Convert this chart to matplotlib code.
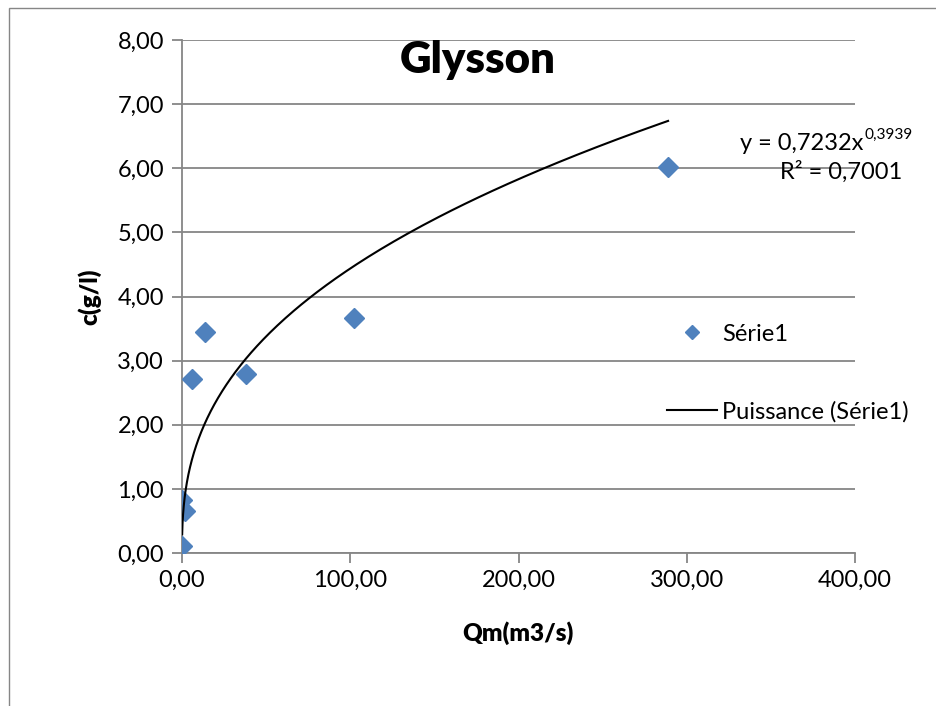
"""Glysson scatter plot with power trend line (Excel style)."""

import matplotlib
matplotlib.use("Agg")
import matplotlib.pyplot as plt
import numpy as np
from matplotlib.lines import Line2D
from matplotlib.patches import Rectangle
from matplotlib.transforms import offset_copy

# data
qm = [0.1, 0.2, 1.8, 5.8, 13.9, 37.8, 102.2, 288.9]
conc = [0.11, 0.83, 0.66, 2.71, 3.45, 2.79, 3.67, 6.02]

# power trend line as printed on the chart
coef_a = 0.7232
coef_b = 0.3939
r2_text = "R² = 0,7001"

x_ticks = [0, 100, 200, 300, 400]
y_ticks = [0, 1, 2, 3, 4, 5, 6, 7, 8]


def fr(v, fmt="{:.2f}"):
    return fmt.format(v).replace(".", ",")


plt.rcParams["font.family"] = ["Lato", "DejaVu Sans"]

blue = "#4F81BD"
grid = "#868686"
fs = 17

fig = plt.figure(figsize=(9.37, 7.06), dpi=100)
fig.patches.append(Rectangle((9 / 937, -0.1), 1.2, 1 - 8 / 706 + 0.1,
                             transform=fig.transFigure, fill=False,
                             edgecolor=grid, linewidth=1.0))

ax = fig.add_axes([182 / 937, 1 - 553 / 706, (855 - 182) / 937, (553 - 40) / 706])

xs = np.geomspace(min(qm), max(qm), 500)
ax.plot(qm, conc, linestyle="none", marker="D", markersize=10.5,
        color=blue, zorder=3)
ax.plot(xs, coef_a * xs ** coef_b, color="black", linewidth=1.5, zorder=4)

ax.set_xlim(0, 400)
ax.set_ylim(0, 8)
ax.set_xticks(x_ticks)
ax.set_yticks(y_ticks)
ax.set_xticklabels([fr(v) for v in x_ticks])
ax.set_yticklabels([fr(v) for v in y_ticks])
ax.yaxis.grid(True, color=grid, linewidth=1.3)
ax.set_axisbelow(True)
for side in ("top", "right"):
    ax.spines[side].set_visible(False)
for side in ("left", "bottom"):
    ax.spines[side].set_color(grid)
    ax.spines[side].set_linewidth(1.3)
ax.tick_params(axis="both", colors=grid, width=1.3, length=7,
               labelcolor="black", labelsize=fs)
ax.tick_params(axis="y", pad=6)
ax.tick_params(axis="x", pad=5)

fig.text(518 / 937, 1 - 633 / 706, "Qm(m3/s)", ha="center", va="center",
         fontsize=17.5, fontweight="heavy")
fig.text(90 / 937, 1 - 297 / 706, "c(g/l)", ha="center", va="center",
         rotation=90, fontsize=17.5, fontweight="heavy")
fig.text(478 / 937, 1 - 60 / 706, "Glysson", ha="center", va="center",
         fontsize=31.5, fontweight="heavy")

eq = fig.text(740 / 937, 1 - 150 / 706, "y = " + fr(coef_a, "{:.4f}") + "x",
              ha="left", va="baseline", fontsize=fs)
fig.canvas.draw()
bb = eq.get_window_extent()
fig.text(bb.x1 / fig.bbox.width, 1 - 150 / 706, fr(coef_b, "{:.4f}"),
         transform=offset_copy(fig.transFigure, fig=fig, x=0.5, y=8, units="points"),
         ha="left", va="baseline", fontsize=fs * 0.65)
fig.text(780 / 937, 1 - 172 / 706, r2_text, ha="left", va="center", fontsize=fs)

handles = [Line2D([], [], linestyle="none", marker="D", markersize=7.5, color=blue),
           Line2D([], [], color="black", linewidth=1.5)]
ax.legend(handles, ["Série1", "Puissance (Série1)"], loc="center left",
          bbox_to_anchor=(667 / 937, 1 - 373 / 706), bbox_transform=fig.transFigure,
          frameon=False, fontsize=fs, handlelength=2.1, handletextpad=0.25,
          labelspacing=2.38, borderpad=0, borderaxespad=0)

fig.savefig("out.png", dpi=100)
